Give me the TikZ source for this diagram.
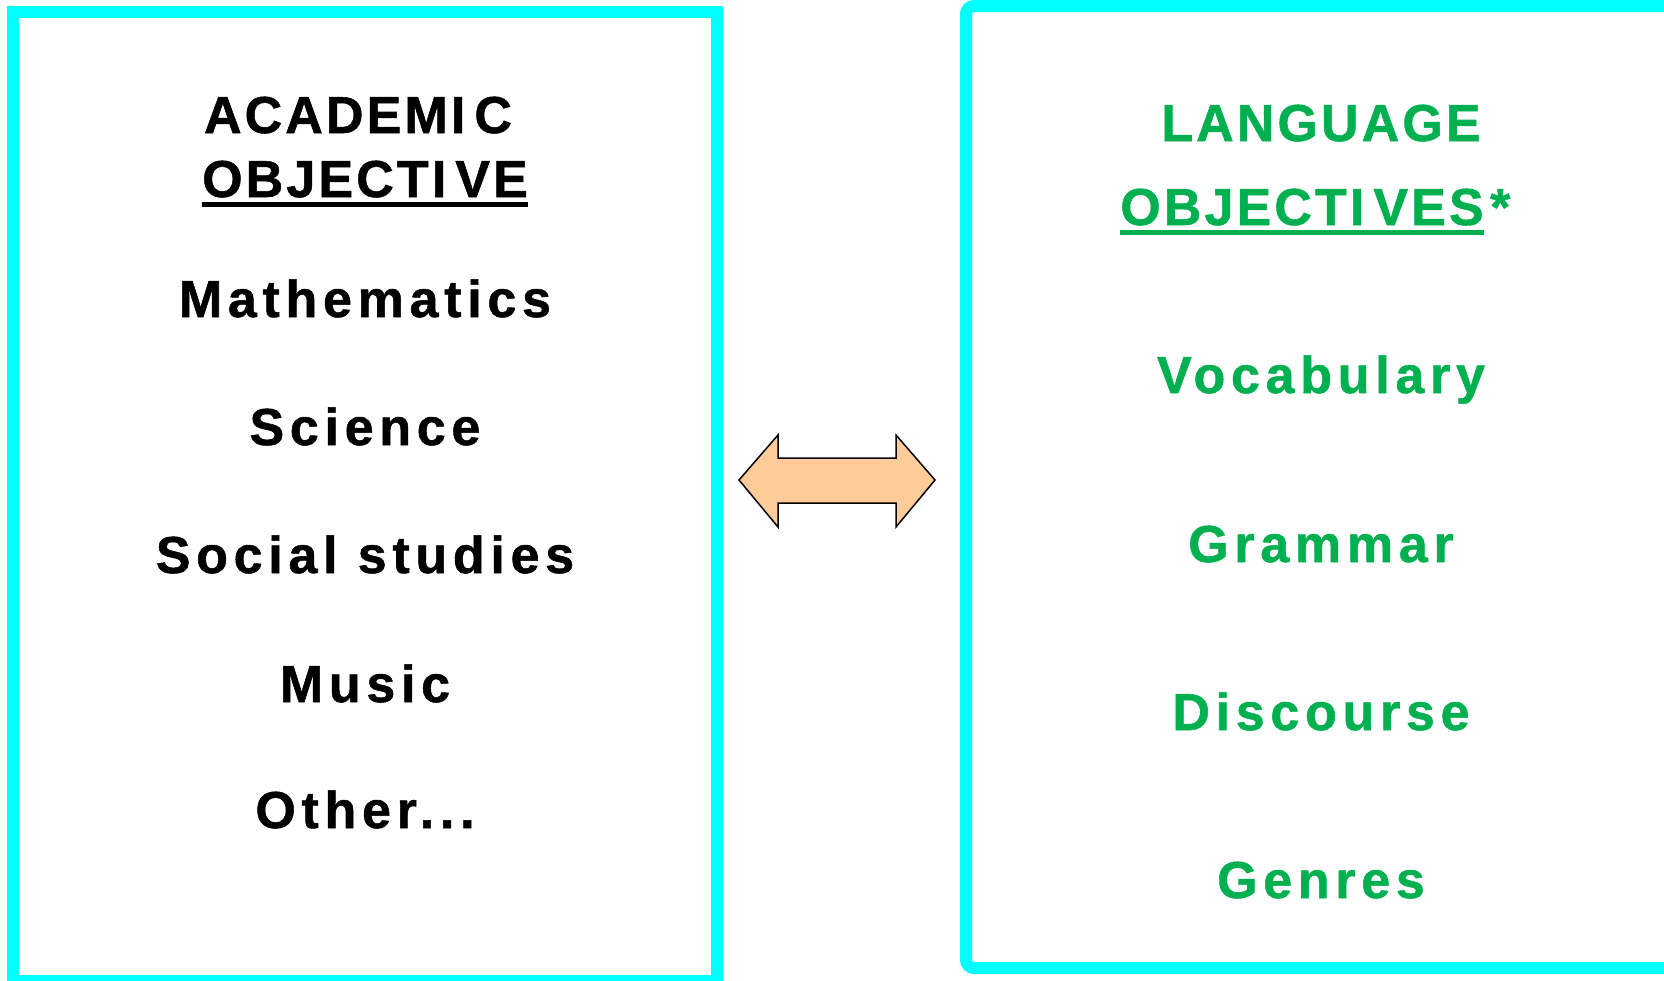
\documentclass[tikz,border=0pt]{standalone}
\usepackage{fontspec}
\newfontfamily\headfont{Liberation Sans}[LetterSpace=6,BoldFeatures={FakeBold=1}]
\newfontfamily\itemfont{Liberation Sans}[LetterSpace=11,BoldFeatures={FakeBold=1}]

\definecolor{boxcyan}{HTML}{00FFFF}
\definecolor{langgreen}{HTML}{00B050}
\definecolor{arrowpeach}{HTML}{FFCC99}

\newcommand*{\leftx}{365}
\newcommand*{\rightx}{1321}

\begin{document}
\begin{tikzpicture}
[
	x=1pt,y=-1pt,
	objbox/.style={draw=boxcyan,line width=12pt},
	heading/.style={anchor=base,inner sep=0pt,font=\headfont\bfseries\fontsize{52}{60}\selectfont},
	item/.style={anchor=base,inner sep=0pt,font=\itemfont\bfseries\fontsize{52}{60}\selectfont},
	uline/.style={line width=5pt}
]
	\useasboundingbox (0,0) rectangle (1664,980);
	\clip (0,0) rectangle (1664,980);

	% boxes
	\draw[objbox] (13,12) rectangle (717,981);
	\draw[objbox,rounded corners=8pt] (966,6) rectangle (1680,968);

	% academic objective
	\node[heading] (acad) at (358,133) {ACADEMI\kern9pt C};
	\node[heading] (acadobj) at (\leftx,197) {OBJECTI\kern9pt VE};
	\draw[uline] ([yshift=-7pt]acadobj.base west) -- ([yshift=-7pt]acadobj.base east);

	\node[item] (math) at (\leftx,317) {Mathematics};
	\node[item] (sci) at (\leftx,445) {Science};
	\node[item] (soc) at (\leftx,573) {Social studies};
	\node[item] (mus) at (\leftx,702) {Music};
	\node[item] (oth) at (\leftx,828) {Other...};

	% language objectives
	\begin{scope}[langgreen]
		\node[heading,text=langgreen] (lang) at (\rightx,141) {LANGUAGE};
		\node[heading,text=langgreen] (langobj) at (1302,225) {OBJECTI\kern9pt VES};
		\node[heading,text=langgreen,anchor=base west,xshift=6pt] (star) at (langobj.base east) {*};
		\draw[uline] ([yshift=-7pt]langobj.base west) -- ([yshift=-7pt]langobj.base east);

		\node[item,text=langgreen] (voc) at (\rightx,393) {Vocabulary};
		\node[item,text=langgreen] (gram) at (\rightx,562) {Grammar};
		\node[item,text=langgreen] (disc) at (\rightx,730) {Discourse};
		\node[item,text=langgreen] (gen) at (\rightx,898) {Genres};
	\end{scope}

	% double arrow
	\draw[fill=arrowpeach,line width=1.5pt] (739,480) -- (778,435) -- (778,458) -- (896,458) -- (896,435)
		-- (935,480) -- (896,527) -- (896,503) -- (778,503) -- (778,527) -- cycle;

\end{tikzpicture}
\end{document}
